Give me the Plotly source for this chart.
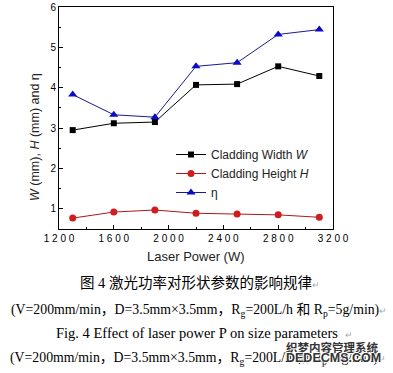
import plotly.graph_objects as go

power = [1300, 1600, 1900, 2200, 2500, 2800, 3100]
width_w = [2.95, 3.12, 3.15, 4.07, 4.09, 4.53, 4.29]
height_h = [0.77, 0.92, 0.97, 0.89, 0.87, 0.85, 0.79]
eta = [3.83, 3.33, 3.27, 4.53, 4.62, 5.32, 5.44]

names = ["Cladding Width <i>W</i>", "Cladding Height <i>H</i>", "η"]
x_ticks = [1200, 1600, 2000, 2400, 2800, 3200]
y_ticks = [1, 2, 3, 4, 5, 6]

fig = go.Figure()
fig.add_trace(go.Scatter(x=power, y=width_w, name=names[0], mode="lines+markers",
                         line=dict(color="black", width=1),
                         marker=dict(symbol="square", size=6, color="black")))
fig.add_trace(go.Scatter(x=power, y=height_h, name=names[1], mode="lines+markers",
                         line=dict(color="#b01818", width=1),
                         marker=dict(symbol="circle", size=7, color="#d01c1c")))
fig.add_trace(go.Scatter(x=power, y=eta, name=names[2], mode="lines+markers",
                         line=dict(color="#1a1a90", width=1),
                         marker=dict(symbol="triangle-up", size=8, color="#0a0ac8")))

axis_common = dict(showline=True, linecolor="black", linewidth=1, mirror=True,
                   ticks="inside", ticklen=4, tickcolor="black", showgrid=False,
                   zeroline=False, automargin=False,
                   tickfont=dict(family="Liberation Sans, Arial", size=10, color="black"))

fig.update_xaxes(range=[1200, 3200], tickvals=x_ticks,
                 ticktext=[" ".join(str(v)) for v in x_ticks],
                 minor=dict(dtick=200, ticks="inside", ticklen=2, tickcolor="black"),
                 **axis_common)
fig.update_yaxes(range=[0.5, 6], tickvals=y_ticks,
                 minor=dict(dtick=0.5, tick0=0, ticks="inside", ticklen=2, tickcolor="black"),
                 **axis_common)

ret = "<span style='color:#aaa;font-size:9px'>↵</span>"
cap_font = "Liberation Serif, Noto Sans CJK SC"
ann = []
ann.append(dict(text="<i>W</i> (mm), <i>H</i> (mm) and η", x=35, y=137, textangle=-90,
                font=dict(family="Liberation Sans, Arial", size=12.5, color="#222")))
ann.append(dict(text="Laser Power (W)", x=196, y=256,
                font=dict(family="Liberation Sans, Arial", size=13, color="#222")))
ann.append(dict(text="图 4 激光功率对形状参数的影响规律" + ret,
                x=200, y=283, font=dict(family=cap_font, size=14.5, color="black")))
ann.append(dict(text="(V=200mm/min，D=3.5mm×3.5mm，R<sub>g</sub>=200L/h 和 R<sub>p</sub>=5g/min)" + ret,
                x=199, y=310, font=dict(family=cap_font, size=13.8, color="black")))
ann.append(dict(text="Fig. 4 Effect of laser power P on size parameters  " + ret,
                x=204, y=333, font=dict(family=cap_font, size=14.5, color="black")))
ann.append(dict(text="(V=200mm/min，D=3.5mm×3.5mm，R<sub>g</sub>=200L/h 和 R<sub>p</sub>=5g/min)" + ret,
                x=198, y=358, font=dict(family=cap_font, size=13.8, color="black")))
ann.append(dict(text="<b>织梦内容管理系统</b>", x=332, y=347,
                font=dict(family="Noto Sans CJK SC", size=11.5, color="#333",
                          shadow="1px 1px 0px white, -1px -1px 0px white")))
ann.append(dict(text="<b>DEDECMS.COM</b>", x=333, y=358,
                font=dict(family="Liberation Sans", size=12.5, color="#333",
                          shadow="1px 1px 0px white, -1px -1px 0px white")))

W, H = 393, 373
L, R, T, B = 59, 60, 7, 144
pw, ph = W - L - R, H - T - B
for a in ann:
    px, py = a["x"], a["y"]
    a["x"] = (px - L) / pw
    a["y"] = (H - B - py) / ph
    a["xref"] = "paper"
    a["yref"] = "paper"
    a["xanchor"] = "center"
    a["yanchor"] = "middle"
    a["showarrow"] = False

fig.update_layout(
    width=W, height=H, margin=dict(l=L, r=R, t=T, b=B, autoexpand=False),
    paper_bgcolor="white", plot_bgcolor="white",
    showlegend=True,
    legend=dict(x=(171 - L) / pw, y=(H - B - 140) / ph, xanchor="left", yanchor="top",
                bgcolor="rgba(0,0,0,0)", tracegroupgap=0, itemwidth=30,
                font=dict(family="Liberation Sans, Arial", size=12, color="#222")),
    annotations=ann,
)

fig.write_html("out.html", config={"displayModeBar": False},
               post_script="document.body.style.margin='0px';document.body.style.overflow='hidden';")
